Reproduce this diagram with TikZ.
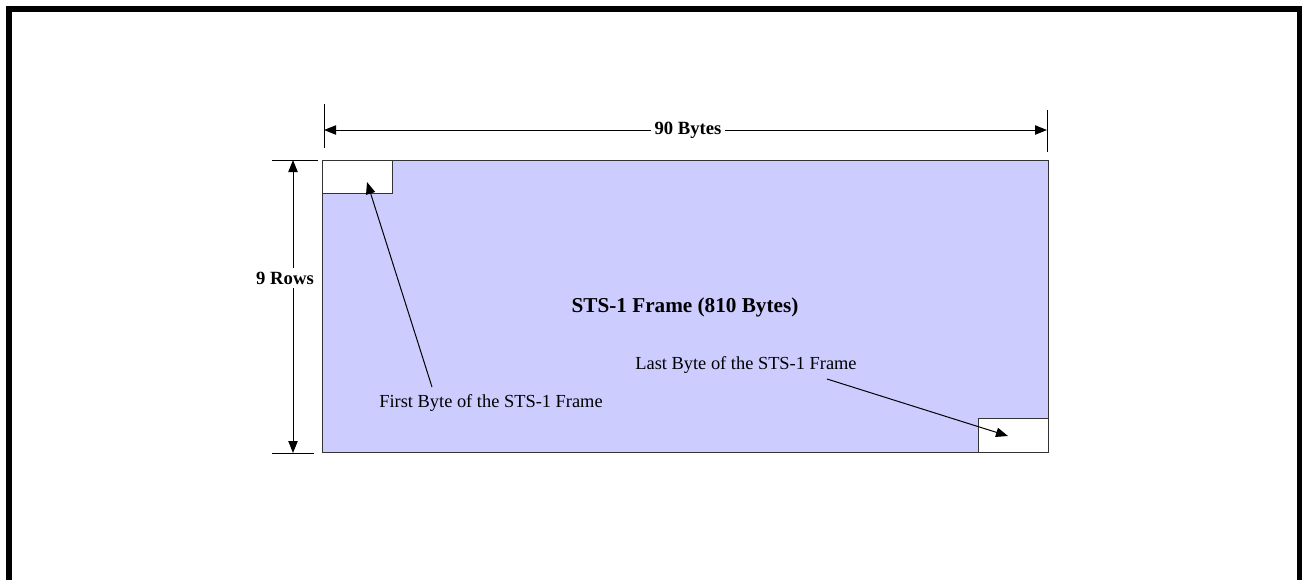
\documentclass[tikz,border=0pt]{standalone}
\usepackage{fontspec}
\setmainfont{Liberation Serif}
\usetikzlibrary{arrows.meta}
\definecolor{lav}{HTML}{CCCCFF}
\definecolor{edge}{HTML}{333333}
\begin{document}
\begin{tikzpicture}[x=0.75pt,y=-0.75pt,
  thin line/.style={line width=0.75pt, draw=black},
  ptr/.style={line width=0.75pt, -{Triangle[length=9pt,width=7pt]}},
  dimarrow/.style={line width=0.75pt, {Triangle[length=9pt,width=7pt]}-{Triangle[length=9pt,width=7pt]}},
  framebox/.style={draw=edge, line width=0.75pt, fill=lav, inner sep=0pt, outer sep=0pt, anchor=north west},
  bytebox/.style={draw=edge, line width=0.75pt, fill=white, inner sep=0pt, outer sep=0pt},
  lbl/.style={font=\fontsize{13.8}{16}\selectfont, inner sep=0pt},
  blbl/.style={font=\fontsize{14}{16}\selectfont\bfseries, fill=white, inner sep=3pt},
  title/.style={font=\fontsize{15.9}{18}\selectfont\bfseries, inner sep=0pt}]
\useasboundingbox (0,0) rectangle (1302,579);
\begin{scope}
\clip (0,0) rectangle (1302,579);
\draw[line width=4.5pt] (9,600) -- (9,9) -- (1300,9) -- (1300,600);
\end{scope}
% frame
\node[framebox, minimum width=544.5pt, minimum height=219pt] (frame) at (322,160) {};
\node[bytebox, anchor=north west, minimum width=52.5pt, minimum height=24.75pt] (first) at (frame.north west) {};
\node[bytebox, anchor=south east, minimum width=52.5pt, minimum height=25.5pt] (last) at (frame.south east) {};
% 90 bytes dimension
\coordinate (tl1) at (324,104);
\coordinate (tl2) at (324,148);
\coordinate (tr1) at (1047,110);
\coordinate (tr2) at (1047,152);
\draw[thin line] (tl1) -- (tl2);
\draw[thin line] (tr1) -- (tr2);
\coordinate (ha) at (324,130);
\coordinate (hb) at (1047,130);
\draw[dimarrow] (ha) -- (hb);
\node[blbl] (bytes) at (688,130) {90 Bytes};
% 9 rows dimension
\coordinate (vt1) at (272,160);
\coordinate (vt2) at (318,160);
\coordinate (vb1) at (272,453);
\coordinate (vb2) at (314,453);
\draw[thin line] (vt1) -- (vt2);
\draw[thin line] (vb1) -- (vb2);
\coordinate (va) at (293,160);
\coordinate (vb) at (293,453);
\draw[dimarrow] (va) -- (vb);
\node[blbl, inner xsep=2pt] (rows) at (285,278) {9 Rows};
% labels
\node[title] (ttl) at (685,307) {STS-1 Frame (810 Bytes)};
\node[lbl] (firstlbl) at (491,403) {First Byte of the STS-1 Frame};
\node[lbl] (lastlbl) at (746,365) {Last Byte of the STS-1 Frame};
\coordinate (fa) at (432,387);
\coordinate (fb) at (367,182);
\coordinate (la) at (827,379);
\coordinate (lb) at (1008,436);
\draw[ptr] (fa) -- (fb);
\draw[ptr] (la) -- (lb);
\end{tikzpicture}
\end{document}
